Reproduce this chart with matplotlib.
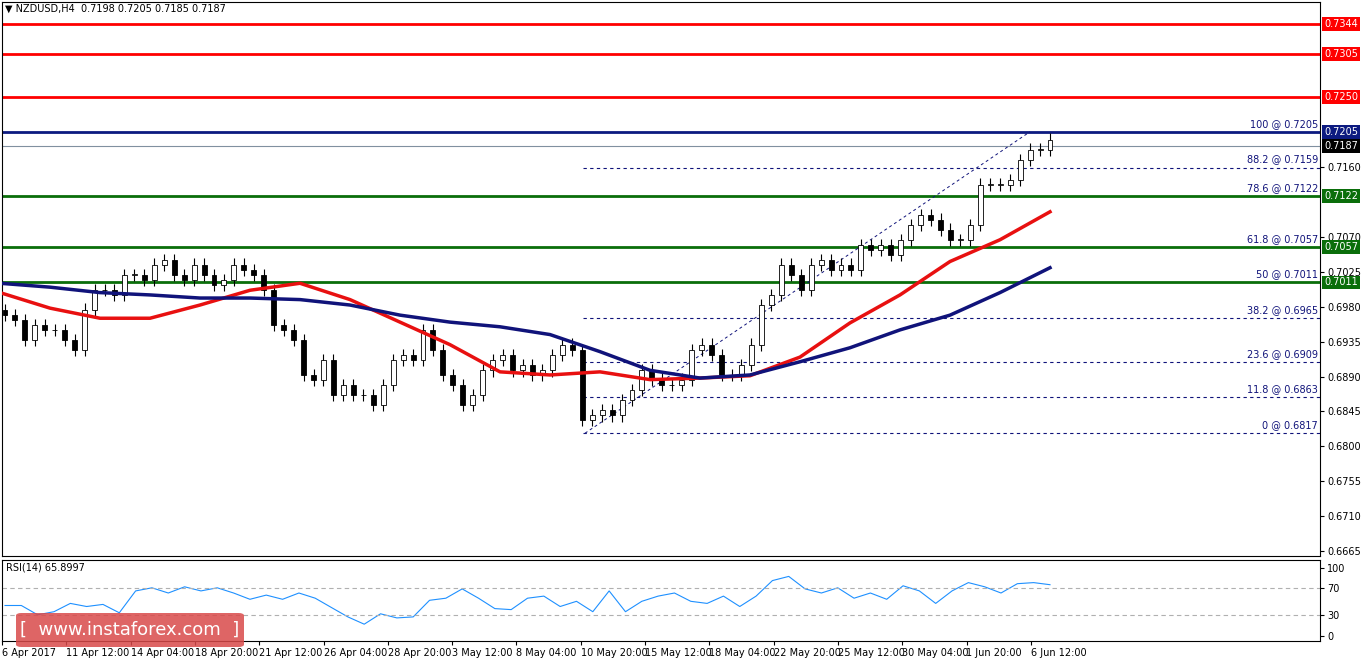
import numpy as np
import matplotlib.pyplot as plt
from matplotlib.patches import FancyBboxPatch

W, H = 1362, 661

closes = [0.6969, 0.6963, 0.6937, 0.6956, 0.6950, 0.6950, 0.6937, 0.6924, 0.6976, 0.7001,
          0.7001, 0.6995, 0.7021, 0.7021, 0.7014, 0.7034, 0.7040, 0.7021, 0.7014, 0.7034,
          0.7021, 0.7008, 0.7014, 0.7034, 0.7027, 0.7021, 0.7001, 0.6956, 0.6950, 0.6937,
          0.6892, 0.6886, 0.6911, 0.6866, 0.6879, 0.6866, 0.6866, 0.6853, 0.6879, 0.6911,
          0.6918, 0.6911, 0.6950, 0.6924, 0.6892, 0.6879, 0.6853, 0.6866, 0.6898, 0.6911,
          0.6918, 0.6898, 0.6905, 0.6892, 0.6898, 0.6918, 0.6931, 0.6924, 0.6834, 0.6840,
          0.6847, 0.6840, 0.6860, 0.6873, 0.6898, 0.6886, 0.6879, 0.6879, 0.6886, 0.6924,
          0.6931, 0.6918, 0.6892, 0.6892, 0.6905, 0.6931, 0.6982, 0.6995, 0.7034, 0.7021,
          0.7001, 0.7034, 0.7040, 0.7027, 0.7034, 0.7027, 0.7059, 0.7053, 0.7059, 0.7047,
          0.7066, 0.7085, 0.7098, 0.7092, 0.7079, 0.7066, 0.7066, 0.7085, 0.7137, 0.7137,
          0.7137, 0.7143, 0.7169, 0.7182, 0.7182, 0.7195]
ma_red = [0.6998, 0.6978, 0.6965, 0.6965, 0.6982, 0.7001, 0.7010, 0.6989, 0.6960, 0.6931,
          0.6896, 0.6892, 0.6896, 0.6886, 0.6888, 0.6891, 0.6915, 0.6959, 0.6995, 0.7038,
          0.7066, 0.7102]
ma_blue = [0.7010, 0.7005, 0.6998, 0.6995, 0.6991, 0.6991, 0.6989, 0.6982, 0.6969, 0.6960,
           0.6954, 0.6944, 0.6922, 0.6898, 0.6888, 0.6892, 0.6909, 0.6927, 0.6950, 0.6969,
           0.6998, 0.7030]
rsi = [44.6, 44.6, 30.8, 35.4, 47.7, 43.1, 46.2, 33.8, 66.2, 70.8, 63.1, 72.3, 66.2, 70.8,
       63.1, 53.8, 60.0, 53.8, 63.1, 55.4, 41.5, 27.7, 16.9, 32.3, 26.2, 27.7, 52.3, 55.4,
       69.2, 55.4, 40.0, 38.5, 55.4, 58.5, 43.1, 50.8, 35.4, 66.2, 35.4, 50.8, 58.5, 63.1,
       50.8, 47.7, 58.5, 43.1, 58.5, 81.5, 87.7, 69.2, 63.1, 70.8, 55.4, 63.1, 53.8, 73.8,
       66.2, 47.7, 66.2, 78.5, 72.3, 63.1, 76.9, 78.5, 75.4]
red_levels = [0.7344, 0.7305, 0.7250]
green_levels = [0.7122, 0.7057, 0.7011]
high_level, last_price = 0.7205, 0.7187
fib_pct = ["100", "88.2", "78.6", "61.8", "50", "38.2", "23.6", "11.8", "0"]
fib_val = [0.7205, 0.7159, 0.7122, 0.7057, 0.7011, 0.6965, 0.6909, 0.6863, 0.6817]
price_ticks = [0.7340 - 0.0045 * k for k in range(16)]
date_labels = ["6 Apr 2017", "11 Apr 12:00", "14 Apr 04:00", "18 Apr 20:00", "21 Apr 12:00",
               "26 Apr 04:00", "28 Apr 20:00", "3 May 12:00", "8 May 04:00", "10 May 20:00",
               "15 May 12:00", "18 May 04:00", "22 May 20:00", "25 May 12:00", "30 May 04:00",
               "1 Jun 20:00", "6 Jun 12:00"]

x0, x1 = 2, 1320
fig = plt.figure(figsize=(W / 100, H / 100), dpi=100)
ax = fig.add_axes([x0 / W, (H - 556) / H, (x1 - x0) / W, 554 / H])
ax2 = fig.add_axes([x0 / W, (H - 641) / H, (x1 - x0) / W, 81 / H])
for a in (ax, ax2):
    a.set_xlim(x0, x1)
    a.tick_params(axis='y', which='both', left=False, right=True, labelleft=False,
                  labelright=True, labelsize=7, length=3, pad=2)
ax.set_ylim(0.6659, 0.7372)
ax2.set_ylim(-8, 112)

n = len(closes)
xs = np.linspace(5, 1050, n)
step = xs[1] - xs[0]
opens = [closes[0] + 0.0006] + closes[:-1]
for i in range(n):
    o, c = opens[i], closes[i]
    lo, hi = min(o, c), max(o, c)
    ax.vlines(xs[i], lo - 0.0008, hi + 0.0008, color='black', lw=0.8, zorder=3)
    ax.bar(xs[i], max(hi - lo, 0.00005), bottom=lo, width=step * 0.5,
           color='white' if c >= o else 'black', edgecolor='black', lw=0.6, zorder=4)

ax.plot(np.linspace(0, 1050, len(ma_red)), ma_red, color='#e81010', lw=2.5, zorder=5)
ax.plot(np.linspace(0, 1050, len(ma_blue)), ma_blue, color='#10137a', lw=2.5, zorder=5)

for v in red_levels:
    ax.axhline(v, color='red', lw=2)
for v in green_levels:
    ax.axhline(v, color='#0a6e0a', lw=2)
ax.axhline(high_level, color='#0c1a80', lw=2)
ax.axhline(last_price, color='#8090a0', lw=0.8)

for p, v in zip(fib_pct, fib_val):
    if p not in ("100", "78.6", "61.8", "50"):
        ax.hlines(v, 583, x1, colors='#10137a', linestyles=(0, (3, 3)), lw=0.8)
    ax.text(x1 - 2, v + 0.0004, f"{p} @ {v:.4f}", ha='right', va='bottom', fontsize=7,
            color='#10137a')
ax.plot([585, 1030], [fib_val[-1], fib_val[0]], color='#10137a', lw=0.7, ls=(0, (3, 3)))

boxes = [(v, 'red') for v in red_levels] + [(high_level, '#0c1a80'), (last_price, 'black')] + \
        [(v, '#0a6e0a') for v in green_levels]
# price ticks that would sit under a level box are left out
shown = [t for t in price_ticks if all(abs(t - v) > 0.0012 for v, _ in boxes)]
ax.set_yticks(shown)
ax.set_yticklabels([f"{t:.4f}" for t in shown])
ax.set_xticks([])
for v, col in boxes:
    ax.text(1.003, v, f"{v:.4f}", transform=ax.get_yaxis_transform(), ha='left', va='center',
            fontsize=7, color='white', bbox=dict(boxstyle='square,pad=0.2', fc=col, ec='none'))
ax.text(5, 0.7363, "\u25bc NZDUSD,H4  0.7198 0.7205 0.7185 0.7187", fontsize=7, va='center')

ax2.plot(np.linspace(5, 1050, len(rsi)), rsi, color='#1e90ff', lw=0.8)
for v in (70, 30):
    ax2.axhline(v, color='#b0b0b0', lw=0.8, ls=(0, (4, 3)))
ax2.set_yticks([0, 30, 70, 100])
ax2.text(6, 101, "RSI(14) 65.8997", fontsize=7, va='center')
ticks = [2 + 64.3 * k for k in range(len(date_labels))]
ax2.set_xticks(ticks)
ax2.set_xticklabels(date_labels, fontsize=7, ha='left')
ax2.tick_params(axis='x', length=3, pad=2)

fig.patches.append(FancyBboxPatch((16 / W, 14 / H), 228 / W, 34 / H,
                                  boxstyle='round,pad=0,rounding_size=0.004',
                                  transform=fig.transFigure, fc='#d94a4a', ec='none',
                                  alpha=0.85, zorder=10))
fig.text(130 / W, 31 / H, "[  www.instaforex.com  ]", color='white', fontsize=13,
         ha='center', va='center', zorder=11)

fig.savefig('out.png', dpi=100)
